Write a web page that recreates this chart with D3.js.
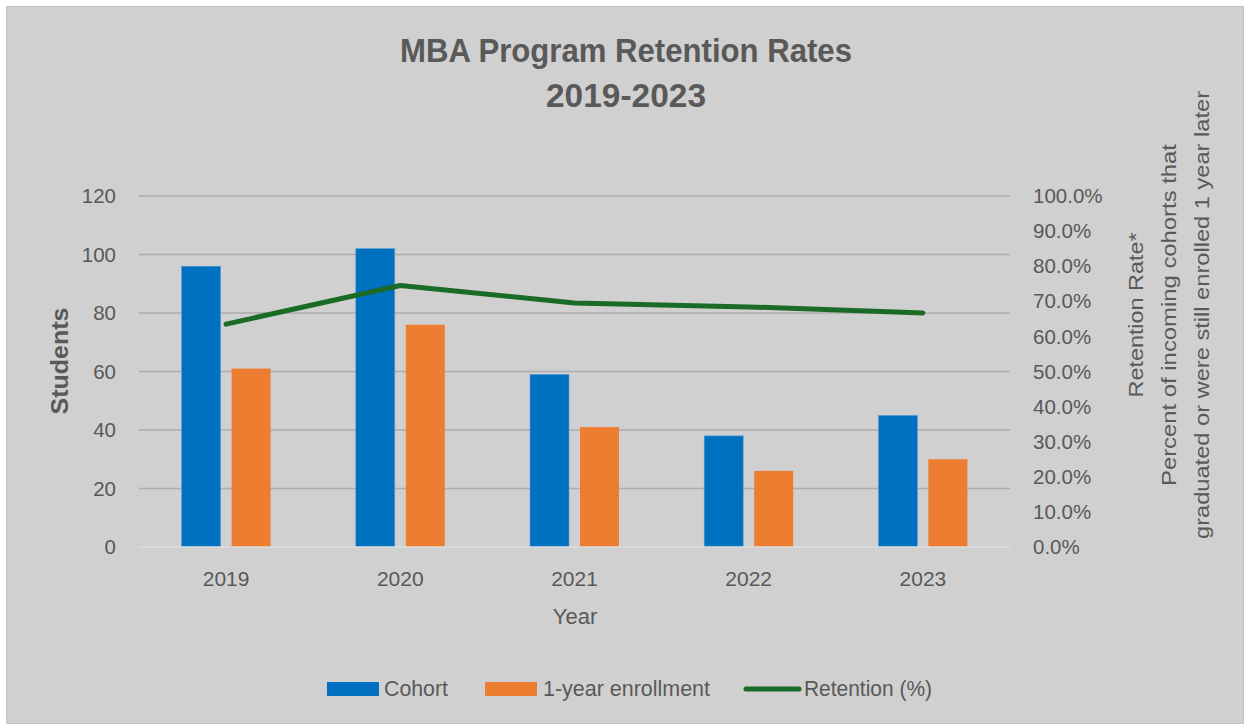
<!DOCTYPE html>
<meta charset="utf-8">
<script src="https://d3js.org/d3.v7.min.js"></script>
<style>
  body { margin: 0; background: #fff; }
  text { fill: #595959; font-family: "Liberation Sans", Arial, sans-serif; }
</style>
<div id="chart"></div>
<script>
// data
const years = ["2019", "2020", "2021", "2022", "2023"];
const cohort = [96, 102, 59, 38, 45];
const enrolled = [61, 76, 41, 26, 30];
const retention = [63.5, 74.5, 69.5, 68.4, 66.7];
const leftTicks = [0, 20, 40, 60, 80, 100, 120];
const rightTicks = [0, 10, 20, 30, 40, 50, 60, 70, 80, 90, 100];

const W = 1244, H = 724;
const margin = {top: 196, right: 234, bottom: 177, left: 139};
const width = W - margin.left - margin.right,
      height = H - margin.top - margin.bottom;

const svg = d3.select("#chart").append("svg")
  .attr("width", W).attr("height", H);

// chart area background
svg.append("rect")
  .attr("x", 6.5).attr("y", 6.5)
  .attr("width", W - 7).attr("height", H - 7)
  .attr("fill", "#d0d0d0")
  .attr("stroke", "#c2c2c2");

const g = svg.append("g")
  .attr("transform", `translate(${margin.left},${margin.top})`);

const x = d3.scaleBand().domain(years).range([0, width]);
const y = d3.scaleLinear().domain([0, 120]).range([height, 0]);
const y2 = d3.scaleLinear().domain([0, 100]).range([height, 0]);

// gridlines
g.append("g")
  .selectAll("line")
  .data(leftTicks.filter(d => d > 0))
  .join("line")
    .attr("x1", 0).attr("x2", width)
    .attr("y1", d => y(d)).attr("y2", d => y(d))
    .attr("stroke", "#adadad")
    .attr("stroke-width", 1.5);

// left axis labels
g.append("g")
  .selectAll("text")
  .data(leftTicks)
  .join("text")
    .attr("x", -23)
    .attr("y", d => y(d))
    .attr("dy", "0.35em")
    .attr("text-anchor", "end")
    .style("font-size", "20.5px")
    .text(d => d);

// right axis labels
g.append("g")
  .selectAll("text")
  .data(rightTicks)
  .join("text")
    .attr("x", width + 23)
    .attr("y", d => y2(d))
    .attr("dy", "0.35em")
    .attr("text-anchor", "start")
    .style("font-size", "20.5px")
    .text(d => d.toFixed(1) + "%");

// bars
const barW = 39, gap = 11;
g.append("g")
  .selectAll("rect")
  .data(years)
  .join("rect")
    .attr("x", d => x(d) + x.bandwidth() / 2 - gap / 2 - barW)
    .attr("y", (d, i) => y(cohort[i]))
    .attr("width", barW)
    .attr("height", (d, i) => height - y(cohort[i]))
    .attr("fill", "#0070c0")
    .attr("stroke", "#5a9fd6")
    .attr("stroke-width", 0.6);

g.append("g")
  .selectAll("rect")
  .data(years)
  .join("rect")
    .attr("x", d => x(d) + x.bandwidth() / 2 + gap / 2)
    .attr("y", (d, i) => y(enrolled[i]))
    .attr("width", barW)
    .attr("height", (d, i) => height - y(enrolled[i]))
    .attr("fill", "#ed7d31");

// x axis line
g.append("line")
  .attr("x1", 0).attr("x2", width)
  .attr("y1", height).attr("y2", height)
  .attr("stroke", "#dedede")
  .attr("stroke-width", 1.5);

// x labels
g.append("g")
  .selectAll("text")
  .data(years)
  .join("text")
    .attr("x", d => x(d) + x.bandwidth() / 2)
    .attr("y", height + 39)
    .attr("text-anchor", "middle")
    .style("font-size", "21px")
    .text(d => d);

// retention line
const line = d3.line()
  .x(d => x(d.year) + x.bandwidth() / 2)
  .y(d => y2(d.value));
g.append("path")
  .datum(years.map((yr, i) => ({year: yr, value: retention[i]})))
  .attr("d", line)
  .attr("fill", "none")
  .attr("stroke", "#1a6b26")
  .attr("stroke-width", 5)
  .attr("stroke-linecap", "round")
  .attr("stroke-linejoin", "round");

// axis titles
svg.append("text")
  .attr("x", 575).attr("y", 624)
  .attr("text-anchor", "middle")
  .style("font-size", "22px")
  .text("Year");

svg.append("text")
  .attr("transform", "translate(68,361) rotate(-90)")
  .attr("text-anchor", "middle")
  .style("font-size", "24px")
  .style("font-weight", "bold")
  .attr("textLength", 107)
  .attr("lengthAdjust", "spacingAndGlyphs")
  .text("Students");

const rTitle = [
  {t: "Retention Rate*", len: 165},
  {t: "Percent of incoming cohorts that", len: 342},
  {t: "graduated or were still enrolled 1 year later", len: 448}
];
svg.append("g")
  .selectAll("text")
  .data(rTitle)
  .join("text")
    .attr("transform", (d, i) => `translate(${1143 + i * 33},315) rotate(-90)`)
    .attr("text-anchor", "middle")
    .attr("textLength", d => d.len)
    .attr("lengthAdjust", "spacingAndGlyphs")
    .style("font-size", "21px")
    .text(d => d.t);

// title
const title = svg.append("text")
  .attr("text-anchor", "middle")
  .style("font-size", "33px")
  .style("font-weight", "bold");
title.append("tspan").attr("x", 626).attr("y", 62)
  .attr("textLength", 452).attr("lengthAdjust", "spacingAndGlyphs")
  .text("MBA Program Retention Rates");
title.append("tspan").attr("x", 626).attr("y", 107)
  .attr("textLength", 160).attr("lengthAdjust", "spacingAndGlyphs")
  .text("2019-2023");

// legend
const legend = svg.append("g").style("font-size", "22px");
legend.append("rect").attr("x", 327).attr("y", 682).attr("width", 52).attr("height", 14).attr("fill", "#0070c0");
legend.append("text").attr("x", 384).attr("y", 696)
  .attr("textLength", 64).attr("lengthAdjust", "spacingAndGlyphs").text("Cohort");
legend.append("rect").attr("x", 485).attr("y", 682).attr("width", 52).attr("height", 14).attr("fill", "#ed7d31");
legend.append("text").attr("x", 543).attr("y", 696)
  .attr("textLength", 167).attr("lengthAdjust", "spacingAndGlyphs").text("1-year enrollment");
legend.append("line").attr("x1", 746).attr("x2", 799).attr("y1", 689).attr("y2", 689)
  .attr("stroke", "#1a6b26").attr("stroke-width", 5).attr("stroke-linecap", "round");
legend.append("text").attr("x", 804).attr("y", 696)
  .attr("textLength", 128).attr("lengthAdjust", "spacingAndGlyphs").text("Retention (%)");
</script>
